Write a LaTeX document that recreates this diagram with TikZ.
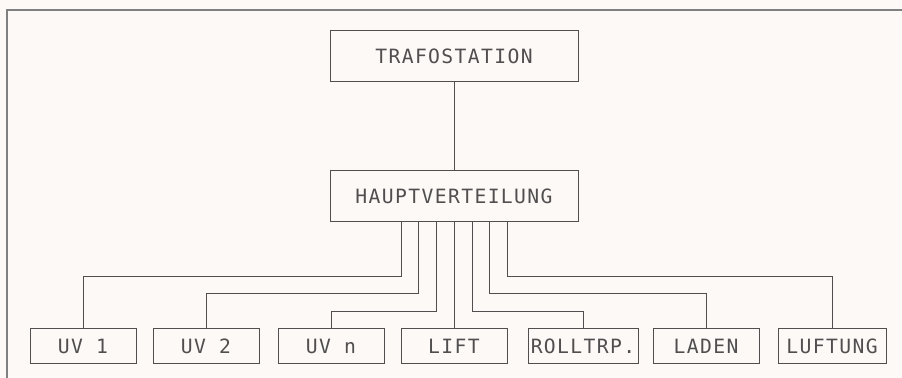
\documentclass[tikz,border=0pt]{standalone}
\usepackage{fontspec}
\newfontfamily\plotfont{DejaVu Sans Mono}[LetterSpace=7]
\definecolor{paper}{RGB}{252,249,247}
\definecolor{ink}{RGB}{80,78,78}
\tikzset{
  unit/.style={draw=ink, line width=0.6pt, text=ink, inner sep=0pt},
  bigunit/.style={unit, minimum width=6.2cm, minimum height=1.29cm},
  subunit/.style={unit, minimum width=2.65cm, minimum height=0.875cm},
  feed/.style={draw=ink, line width=0.6pt},
}
\begin{document}
\begin{tikzpicture}[font=\plotfont\fontsize{14}{16}\selectfont]
    % page and frame of the scan (1 cm = 40 px)
    \fill[paper] (0,0) rectangle (22.55,-9.45);
    \useasboundingbox (0,0) rectangle (22.55,-9.45);
    \draw[gray, line width=1pt] (0.175,-9.45) -- (0.175,-0.25) -- (22.55,-0.25);
    % supply
    \node[bigunit] (trafo) at (11.35,-1.40) {TRAFOSTATION};
    \node[bigunit, minimum height=1.275cm] (hv) at (11.35,-4.91) {HAUPTVERTEILUNG};
    \draw[feed] (trafo.south) -- (hv.north);
    % consumers
    \node[subunit] (uv1) at (2.075,-8.65) {UV 1};
    \node[subunit] (uv2) at (5.15,-8.65) {UV 2};
    \node[subunit] (uvn) at (8.275,-8.65) {UV n};
    \node[subunit] (lift) at (11.35,-8.65) {LIFT};
    \node[subunit, minimum width=2.75cm] (rolltrp) at (14.575,-8.65) {ROLLTRP.};
    \node[subunit] (laden) at (17.65,-8.65) {LADEN};
    \node[subunit, minimum width=2.7cm] (lueftung) at (20.8,-8.65) {LUFTUNG};
    % feeders from the main distribution
    \draw[feed] ([xshift=-1.325cm]hv.south) -- ++(0,-1.35) -| (uv1.north);
    \draw[feed] ([xshift=-0.9cm]hv.south) -- ++(0,-1.775) -| (uv2.north);
    \draw[feed] ([xshift=-0.45cm]hv.south) -- ++(0,-2.225) -| (uvn.north);
    \draw[feed] (hv.south) -- (lift.north);
    \draw[feed] ([xshift=0.45cm]hv.south) -- ++(0,-2.225) -| (rolltrp.north);
    \draw[feed] ([xshift=0.875cm]hv.south) -- ++(0,-1.775) -| (laden.north);
    \draw[feed] ([xshift=1.325cm]hv.south) -- ++(0,-1.35) -| (lueftung.north);
\end{tikzpicture}
\end{document}
